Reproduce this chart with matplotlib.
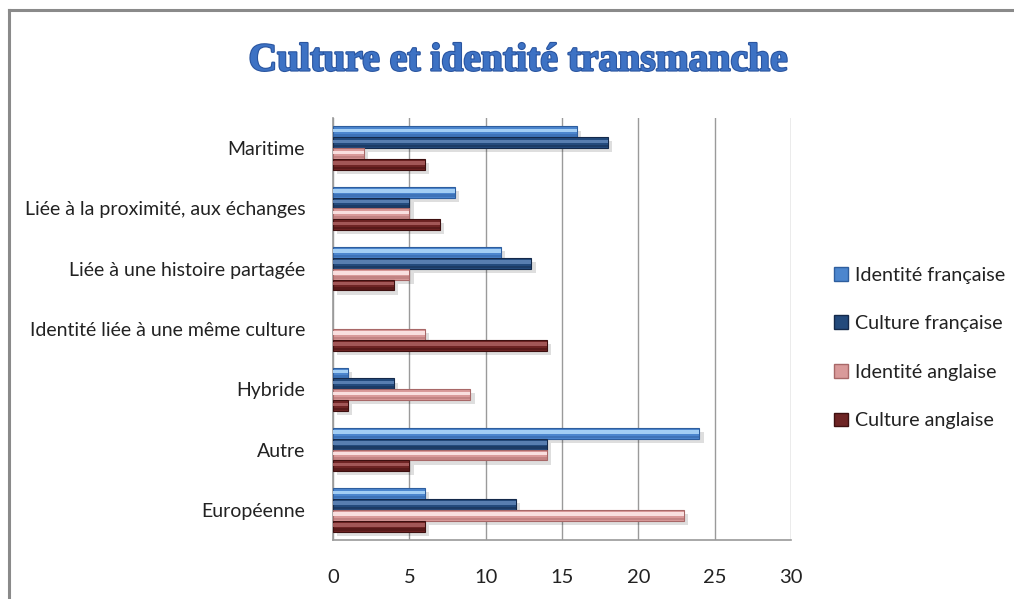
import numpy as np
import matplotlib
matplotlib.use("Agg")
import matplotlib.pyplot as plt
from matplotlib import patheffects as pe
from matplotlib.patches import Patch
from matplotlib.lines import Line2D

categories = [
    "Européenne",
    "Autre",
    "Hybride",
    "Identité liée à une même culture",
    "Liée à une histoire partagée",
    "Liée à la proximité, aux échanges",
    "Maritime",
]
series_names = ["Identité française", "Culture française",
                "Identité anglaise", "Culture anglaise"]
identite_francaise = [6, 24, 1, 0, 11, 8, 16]
culture_francaise = [12, 14, 4, 0, 13, 5, 18]
identite_anglaise = [23, 14, 9, 6, 5, 5, 2]
culture_anglaise = [6, 5, 1, 14, 4, 7, 6]
x_ticks = [0, 5, 10, 15, 20, 25, 30]

series = [identite_francaise, culture_francaise, identite_anglaise, culture_anglaise]
base_colors = ["#4C86CE", "#234A7C", "#D99A9A", "#6E2424"]
light_colors = ["#A9D3F7", "#5C82B4", "#FBE3E3", "#A65A5A"]
edge_colors = ["#2E5E9E", "#14294A", "#A86868", "#3E1010"]

plt.rcParams["font.family"] = ["Lato", "DejaVu Sans"]

fig = plt.figure(figsize=(10.14, 5.99), dpi=100)
fig.patch.set_facecolor("white")

# outer frame (top and left edges)
fig.add_artist(Line2D([9 / 1014, 9 / 1014], [0, 1 - 10 / 599],
                      transform=fig.transFigure, color="#8A8A8A", lw=2.2))
fig.add_artist(Line2D([9 / 1014, 1], [1 - 10 / 599, 1 - 10 / 599],
                      transform=fig.transFigure, color="#8A8A8A", lw=2.2))

ax = fig.add_axes([333 / 1014, 59 / 599, 458 / 1014, 422 / 599])

y = np.arange(len(categories))
bar_h = 0.18
offsets = [1.5 * bar_h, 0.5 * bar_h, -0.5 * bar_h, -1.5 * bar_h]

shadow = [pe.SimplePatchShadow(offset=(3, -3), shadow_rgbFace="#000000", alpha=0.13),
          pe.Normal()]

for vals, off, bc, lc, ec in zip(series, offsets, base_colors, light_colors, edge_colors):
    yy = y + off
    lws = [0.8 if v > 0 else 0 for v in vals]
    ax.barh(yy, vals, height=bar_h, color=bc, edgecolor=ec, linewidth=lws,
            zorder=3, path_effects=shadow)
    # glossy highlight stripe
    ax.barh(yy + bar_h * 0.12, vals, height=bar_h * 0.32, color=lc,
            linewidth=0, zorder=4, alpha=0.95)
    ax.barh(yy - bar_h * 0.32, vals, height=bar_h * 0.22, color=ec,
            linewidth=0, zorder=4, alpha=0.45)

ax.set_xlim(0, 30)
ax.set_ylim(-0.5, len(categories) - 0.5)
ax.set_xticks(x_ticks)
ax.set_xticklabels([str(t) for t in x_ticks], fontsize=14.5, color="#222222")
ax.set_yticks(y)
ax.set_yticklabels(categories, fontsize=14, color="#222222")
ax.tick_params(axis="x", length=0, pad=21)
ax.tick_params(axis="y", length=0, pad=20)

ax.grid(axis="x", color="#9A9A9A", lw=1.0, zorder=0)
for s in ["top", "right"]:
    ax.spines[s].set_visible(False)
for s in ["left", "bottom"]:
    ax.spines[s].set_color("#9A9A9A")
    ax.spines[s].set_linewidth(1.2)

fig.text(518 / 1014, 1 - 61 / 599, "Culture et identité transmanche",
         ha="center", va="center", fontsize=28.5, fontweight="bold",
         family=["Liberation Serif", "DejaVu Serif"], color="#3D72C4",
         path_effects=[pe.withStroke(linewidth=1.6, foreground="#2A55A0")])

handles = [Patch(facecolor=bc, edgecolor=ec, label=n)
           for bc, ec, n in zip(base_colors, edge_colors, series_names)]
fig.legend(handles=handles, loc="center left",
           bbox_to_anchor=(816 / 1014, 1 - 348 / 599), frameon=False,
           fontsize=14.2, labelspacing=1.6, handlelength=0.7, handleheight=0.7,
           handletextpad=0.4, labelcolor="#222222")

fig.savefig("out.png", dpi=100, facecolor="white")
